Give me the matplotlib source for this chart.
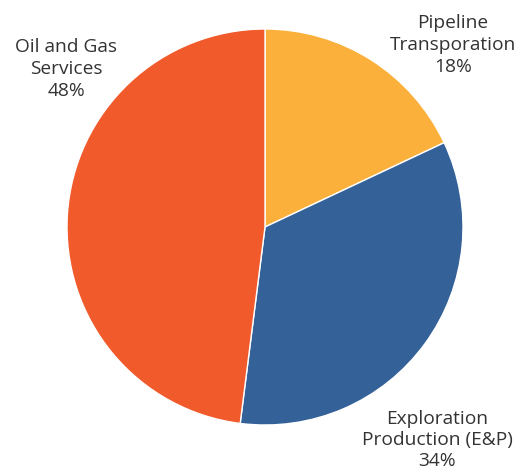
import matplotlib.pyplot as plt

LABELS = ["Pipeline\nTransporation", "Exploration\nProduction (E&P)", "Oil and Gas\nServices"]
SHARES = [18, 34, 48]
COLORS = ["#FBB03B", "#336198", "#F15A2B"]

W, H = 523, 470
fig = plt.figure(figsize=(W / 100, H / 100), dpi=100)
ax = fig.add_axes([0, 0, 1, 1])
ax.axis("off")

ax.pie(SHARES, colors=COLORS, startangle=90, counterclock=False,
       center=(265, H - 227), radius=198,
       wedgeprops=dict(edgecolor="white", linewidth=1))
ax.set_xlim(0, W)
ax.set_ylim(0, H)
ax.set_aspect("equal")

# label positions in pixels (x, y of text centre)
label_pos = [(453, 45), (437, 440), (66, 69)]
for lab, val, (x, y) in zip(LABELS, SHARES, label_pos):
    ax.text(x, H - y, "{}\n{}%".format(lab, val), ha="center", va="center",
            fontsize=13.8, family="Open Sans", color="#333333", linespacing=1.25)

plt.savefig("out.png", dpi=100)
